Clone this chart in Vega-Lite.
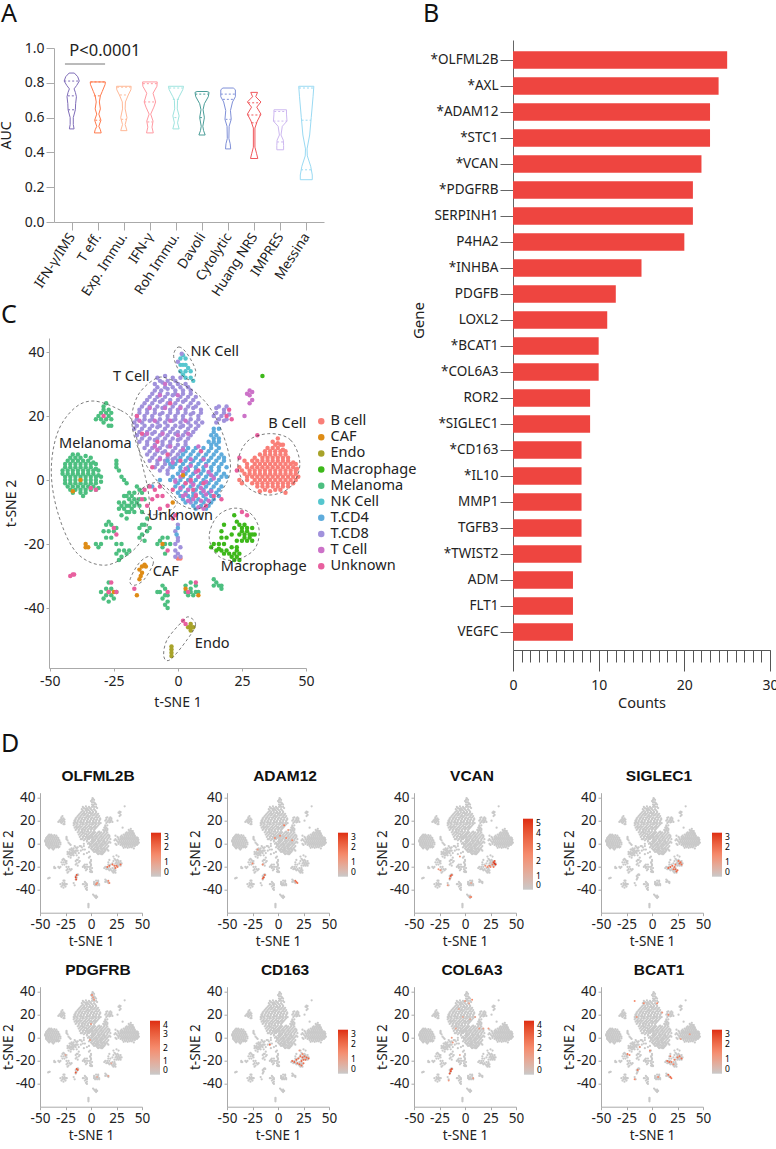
{"$schema":"https://vega.github.io/schema/vega-lite/v6.json","autosize":"none","padding":{"left":40,"top":40,"right":736,"bottom":1109},"background":"white","bounds":"flush","spacing":0,
"resolve":{"scale":{"color":"independent","stroke":"independent"},"legend":{"color":"independent"}},
"config":{"view":{"stroke":null},"font":"Noto Sans","axis":{"grid":false,"domainColor":"#aaa","tickColor":"#aaa","labelColor":"#222","titleColor":"#222","labelFont":"Noto Sans","titleFont":"Noto Sans","titleFontWeight":"normal","labelFontSize":13.5,"titleFontSize":13.5,"tickSize":3,"labelOverlap":false,"labelFlush":false,"labelPadding":2,"titlePadding":3},"title":{"font":"Liberation Sans","fontWeight":"bold","fontSize":15.5,"color":"#111","offset":6,"dx":7,"frame":"group"},"legend":{"labelFont":"Noto Sans","titleFont":"Noto Sans"}},
"datasets":{
"violin":[
{"g":"IFN-γ/IMS","y":0.856,"l":0.9,"r":1.1},{"g":"IFN-γ/IMS","y":0.835,"l":0.77,"r":1.23},{"g":"IFN-γ/IMS","y":0.81,"l":0.71,"r":1.29},{"g":"IFN-γ/IMS","y":0.785,"l":0.81,"r":1.19},{"g":"IFN-γ/IMS","y":0.765,"l":0.91,"r":1.09},{"g":"IFN-γ/IMS","y":0.745,"l":0.86,"r":1.14},{"g":"IFN-γ/IMS","y":0.72,"l":0.82,"r":1.18},{"g":"IFN-γ/IMS","y":0.68,"l":0.85,"r":1.15},{"g":"IFN-γ/IMS","y":0.645,"l":0.86,"r":1.14},{"g":"IFN-γ/IMS","y":0.6,"l":0.94,"r":1.06},{"g":"IFN-γ/IMS","y":0.56,"l":0.94,"r":1.06},{"g":"IFN-γ/IMS","y":0.535,"l":0.91,"r":1.09},
{"g":"T eff.","y":0.805,"l":1.71,"r":2.29},{"g":"T eff.","y":0.79,"l":1.72,"r":2.28},{"g":"T eff.","y":0.75,"l":1.83,"r":2.17},{"g":"T eff.","y":0.725,"l":1.9,"r":2.1},{"g":"T eff.","y":0.69,"l":1.94,"r":2.06},{"g":"T eff.","y":0.65,"l":1.9,"r":2.1},{"g":"T eff.","y":0.62,"l":1.96,"r":2.04},{"g":"T eff.","y":0.585,"l":1.88,"r":2.12},{"g":"T eff.","y":0.55,"l":1.96,"r":2.04},{"g":"T eff.","y":0.53,"l":1.9,"r":2.1},{"g":"T eff.","y":0.512,"l":1.87,"r":2.13},
{"g":"Exp. Immu.","y":0.78,"l":2.72,"r":3.28},{"g":"Exp. Immu.","y":0.76,"l":2.73,"r":3.27},{"g":"Exp. Immu.","y":0.73,"l":2.83,"r":3.17},{"g":"Exp. Immu.","y":0.69,"l":2.94,"r":3.06},{"g":"Exp. Immu.","y":0.65,"l":2.95,"r":3.05},{"g":"Exp. Immu.","y":0.6,"l":2.88,"r":3.12},{"g":"Exp. Immu.","y":0.56,"l":2.95,"r":3.05},{"g":"Exp. Immu.","y":0.525,"l":2.88,"r":3.12},
{"g":"IFN-γ","y":0.805,"l":3.72,"r":4.28},{"g":"IFN-γ","y":0.78,"l":3.73,"r":4.27},{"g":"IFN-γ","y":0.74,"l":3.88,"r":4.12},{"g":"IFN-γ","y":0.69,"l":3.78,"r":4.22},{"g":"IFN-γ","y":0.66,"l":3.85,"r":4.15},{"g":"IFN-γ","y":0.62,"l":3.97,"r":4.03},{"g":"IFN-γ","y":0.58,"l":3.88,"r":4.12},{"g":"IFN-γ","y":0.545,"l":3.92,"r":4.08},{"g":"IFN-γ","y":0.512,"l":3.87,"r":4.13},
{"g":"Roh Immu.","y":0.78,"l":4.71,"r":5.29},{"g":"Roh Immu.","y":0.76,"l":4.74,"r":5.26},{"g":"Roh Immu.","y":0.72,"l":4.88,"r":5.12},{"g":"Roh Immu.","y":0.7,"l":4.94,"r":5.06},{"g":"Roh Immu.","y":0.65,"l":4.95,"r":5.05},{"g":"Roh Immu.","y":0.61,"l":4.88,"r":5.12},{"g":"Roh Immu.","y":0.57,"l":4.94,"r":5.06},{"g":"Roh Immu.","y":0.535,"l":4.88,"r":5.12},
{"g":"Davoli","y":0.75,"l":5.81,"r":6.19},{"g":"Davoli","y":0.745,"l":5.73,"r":6.27},{"g":"Davoli","y":0.72,"l":5.76,"r":6.24},{"g":"Davoli","y":0.68,"l":5.91,"r":6.09},{"g":"Davoli","y":0.645,"l":5.96,"r":6.04},{"g":"Davoli","y":0.6,"l":5.91,"r":6.09},{"g":"Davoli","y":0.55,"l":5.97,"r":6.03},{"g":"Davoli","y":0.525,"l":5.94,"r":6.06},{"g":"Davoli","y":0.5,"l":5.88,"r":6.12},
{"g":"Cytolytic","y":0.77,"l":6.8,"r":7.2},{"g":"Cytolytic","y":0.76,"l":6.72,"r":7.28},{"g":"Cytolytic","y":0.72,"l":6.72,"r":7.28},{"g":"Cytolytic","y":0.69,"l":6.83,"r":7.17},{"g":"Cytolytic","y":0.64,"l":6.91,"r":7.09},{"g":"Cytolytic","y":0.59,"l":6.88,"r":7.12},{"g":"Cytolytic","y":0.55,"l":6.96,"r":7.04},{"g":"Cytolytic","y":0.48,"l":6.97,"r":7.03},{"g":"Cytolytic","y":0.45,"l":6.92,"r":7.08},{"g":"Cytolytic","y":0.42,"l":6.9,"r":7.1},
{"g":"Huang NRS","y":0.745,"l":7.87,"r":8.13},{"g":"Huang NRS","y":0.72,"l":7.94,"r":8.06},{"g":"Huang NRS","y":0.69,"l":7.74,"r":8.26},{"g":"Huang NRS","y":0.66,"l":7.9,"r":8.1},{"g":"Huang NRS","y":0.62,"l":7.74,"r":8.26},{"g":"Huang NRS","y":0.58,"l":7.88,"r":8.12},{"g":"Huang NRS","y":0.54,"l":7.97,"r":8.03},{"g":"Huang NRS","y":0.43,"l":7.97,"r":8.03},{"g":"Huang NRS","y":0.395,"l":7.91,"r":8.09},{"g":"Huang NRS","y":0.365,"l":7.86,"r":8.14},
{"g":"IMPRES","y":0.645,"l":8.76,"r":9.24},{"g":"IMPRES","y":0.62,"l":8.76,"r":9.24},{"g":"IMPRES","y":0.58,"l":8.74,"r":9.26},{"g":"IMPRES","y":0.55,"l":8.92,"r":9.08},{"g":"IMPRES","y":0.5,"l":8.97,"r":9.03},{"g":"IMPRES","y":0.47,"l":8.88,"r":9.12},{"g":"IMPRES","y":0.44,"l":8.87,"r":9.13},{"g":"IMPRES","y":0.415,"l":8.87,"r":9.13},
{"g":"Messina","y":0.78,"l":9.71,"r":10.29},{"g":"Messina","y":0.72,"l":9.74,"r":10.26},{"g":"Messina","y":0.6,"l":9.81,"r":10.19},{"g":"Messina","y":0.5,"l":9.87,"r":10.13},{"g":"Messina","y":0.42,"l":9.97,"r":10.03},{"g":"Messina","y":0.38,"l":9.96,"r":10.04},{"g":"Messina","y":0.32,"l":9.83,"r":10.17},{"g":"Messina","y":0.27,"l":9.77,"r":10.23},{"g":"Messina","y":0.243,"l":9.77,"r":10.23}],
"quart":[
{"g":"IFN-γ/IMS","y":0.81,"l":0.71,"r":1.29},{"g":"IFN-γ/IMS","y":0.725,"l":0.85,"r":1.15},{"g":"IFN-γ/IMS","y":0.645,"l":0.86,"r":1.14},
{"g":"T eff.","y":0.805,"l":1.72,"r":2.28},{"g":"T eff.","y":0.725,"l":1.85,"r":2.15},{"g":"T eff.","y":0.585,"l":1.9,"r":2.1},
{"g":"Exp. Immu.","y":0.775,"l":2.74,"r":3.26},{"g":"Exp. Immu.","y":0.73,"l":2.85,"r":3.15},{"g":"Exp. Immu.","y":0.59,"l":2.9,"r":3.1},
{"g":"IFN-γ","y":0.795,"l":3.73,"r":4.27},{"g":"IFN-γ","y":0.69,"l":3.78,"r":4.22},{"g":"IFN-γ","y":0.575,"l":3.9,"r":4.1},
{"g":"Roh Immu.","y":0.77,"l":4.74,"r":5.26},{"g":"Roh Immu.","y":0.705,"l":4.88,"r":5.12},{"g":"Roh Immu.","y":0.6,"l":4.94,"r":5.06},
{"g":"Davoli","y":0.735,"l":5.74,"r":6.26},{"g":"Davoli","y":0.6,"l":5.92,"r":6.08},
{"g":"Cytolytic","y":0.735,"l":6.72,"r":7.28},{"g":"Cytolytic","y":0.705,"l":6.8,"r":7.2},{"g":"Cytolytic","y":0.59,"l":6.9,"r":7.1},
{"g":"Huang NRS","y":0.685,"l":7.77,"r":8.23},{"g":"Huang NRS","y":0.615,"l":7.74,"r":8.26},{"g":"Huang NRS","y":0.57,"l":7.9,"r":8.1},
{"g":"IMPRES","y":0.635,"l":8.77,"r":9.23},{"g":"IMPRES","y":0.58,"l":8.74,"r":9.26},{"g":"IMPRES","y":0.46,"l":8.88,"r":9.12},
{"g":"Messina","y":0.77,"l":9.72,"r":10.28},{"g":"Messina","y":0.585,"l":9.82,"r":10.18},{"g":"Messina","y":0.3,"l":9.8,"r":10.2}],
"cells":[
{"x":-41,"y":8,"t":"Melanoma"},{"x":-39,"y":8,"t":"Melanoma"},{"x":-36,"y":7.5,"t":"Melanoma"},{"x":-43,"y":6,"t":"Melanoma"},{"x":-41,"y":6,"t":"Melanoma"},{"x":-39,"y":6,"t":"Melanoma"},{"x":-37,"y":6,"t":"Melanoma"},{"x":-35,"y":6,"t":"Melanoma"},{"x":-33,"y":5.5,"t":"Melanoma"},{"x":-44,"y":4,"t":"Melanoma"},{"x":-42,"y":4,"t":"Melanoma"},{"x":-40,"y":4,"t":"Melanoma"},{"x":-38,"y":4,"t":"Melanoma"},{"x":-36,"y":4,"t":"Melanoma"},{"x":-34,"y":4,"t":"Melanoma"},{"x":-32,"y":3.5,"t":"Melanoma"},{"x":-45,"y":2,"t":"Melanoma"},{"x":-43,"y":2,"t":"Melanoma"},{"x":-41,"y":2,"t":"Melanoma"},{"x":-39,"y":2,"t":"Melanoma"},{"x":-37,"y":2,"t":"Melanoma"},{"x":-35,"y":2,"t":"Melanoma"},{"x":-33,"y":2,"t":"Melanoma"},{"x":-31,"y":1.5,"t":"Melanoma"},{"x":-44,"y":0,"t":"Melanoma"},{"x":-42,"y":0,"t":"Melanoma"},{"x":-40,"y":0,"t":"Melanoma"},{"x":-38,"y":0,"t":"Melanoma"},{"x":-36,"y":0,"t":"Melanoma"},{"x":-34,"y":0,"t":"Melanoma"},{"x":-32,"y":0,"t":"Melanoma"},{"x":-30,"y":-0.5,"t":"Melanoma"},{"x":-43,"y":-2,"t":"Melanoma"},{"x":-41,"y":-2,"t":"Melanoma"},{"x":-39,"y":-2,"t":"Melanoma"},{"x":-37,"y":-2,"t":"Melanoma"},{"x":-35,"y":-2,"t":"Melanoma"},{"x":-33,"y":-2,"t":"Melanoma"},{"x":-31,"y":-2.5,"t":"Melanoma"},{"x":-41,"y":-4,"t":"Melanoma"},{"x":-38,"y":-4,"t":"Melanoma"},{"x":-36,"y":-4,"t":"Melanoma"},{"x":-37,"y":-5,"t":"Melanoma"},
{"x":-42,"y":7,"t":"Melanoma"},{"x":-40,"y":7,"t":"Melanoma"},{"x":-38,"y":7,"t":"Melanoma"},{"x":-34,"y":7,"t":"Melanoma"},{"x":-44,"y":5,"t":"Melanoma"},{"x":-42,"y":5,"t":"Melanoma"},{"x":-40,"y":5,"t":"Melanoma"},{"x":-38,"y":5,"t":"Melanoma"},{"x":-36,"y":5,"t":"Melanoma"},{"x":-34,"y":5,"t":"Melanoma"},{"x":-32,"y":5,"t":"Melanoma"},{"x":-45,"y":3,"t":"Melanoma"},{"x":-43,"y":3,"t":"Melanoma"},{"x":-41,"y":3,"t":"Melanoma"},{"x":-39,"y":3,"t":"Melanoma"},{"x":-37,"y":3,"t":"Melanoma"},{"x":-35,"y":3,"t":"Melanoma"},{"x":-33,"y":3,"t":"Melanoma"},{"x":-31,"y":3,"t":"Melanoma"},{"x":-44,"y":1,"t":"Melanoma"},{"x":-42,"y":1,"t":"Melanoma"},{"x":-40,"y":1,"t":"Melanoma"},{"x":-38,"y":1,"t":"Melanoma"},{"x":-36,"y":1,"t":"Melanoma"},{"x":-34,"y":1,"t":"Melanoma"},{"x":-32,"y":1,"t":"Melanoma"},{"x":-30,"y":1,"t":"Melanoma"},{"x":-44,"y":-1,"t":"Melanoma"},{"x":-42,"y":-1,"t":"Melanoma"},{"x":-40,"y":-1,"t":"Melanoma"},{"x":-38,"y":-1,"t":"Melanoma"},{"x":-36,"y":-1,"t":"Melanoma"},{"x":-34,"y":-1,"t":"Melanoma"},{"x":-32,"y":-1,"t":"Melanoma"},{"x":-42,"y":-3,"t":"Melanoma"},{"x":-40,"y":-3,"t":"Melanoma"},{"x":-38,"y":-3,"t":"Melanoma"},{"x":-36,"y":-3,"t":"Melanoma"},{"x":-34,"y":-3,"t":"Melanoma"},{"x":-32,"y":-3,"t":"Melanoma"},
{"x":-29,"y":23,"t":"Melanoma"},{"x":-28,"y":24,"t":"Melanoma"},{"x":-27,"y":22,"t":"Melanoma"},{"x":-30,"y":21,"t":"Melanoma"},{"x":-28,"y":21,"t":"Melanoma"},{"x":-26,"y":21,"t":"Melanoma"},{"x":-32,"y":19,"t":"Melanoma"},{"x":-30,"y":19,"t":"Melanoma"},{"x":-28,"y":19,"t":"Melanoma"},{"x":-26,"y":19,"t":"Melanoma"},{"x":-27,"y":17,"t":"Melanoma"},{"x":-26,"y":17,"t":"Melanoma"},{"x":-29,"y":18,"t":"Melanoma"},{"x":-29,"y":22,"t":"Melanoma"},{"x":-27,"y":20,"t":"Melanoma"},{"x":-31,"y":20,"t":"Melanoma"},
{"x":-24,"y":6,"t":"Melanoma"},{"x":-24,"y":4,"t":"Melanoma"},{"x":-23,"y":3,"t":"Melanoma"},{"x":-22,"y":1,"t":"Melanoma"},{"x":-21,"y":0,"t":"Melanoma"},{"x":-20,"y":-1,"t":"Melanoma"},{"x":-24,"y":5,"t":"Melanoma"},
{"x":-16,"y":-2,"t":"Melanoma"},{"x":-15,"y":-3,"t":"Melanoma"},{"x":-14,"y":-4,"t":"Melanoma"},{"x":-17,"y":-4,"t":"Melanoma"},{"x":-19,"y":-4,"t":"Melanoma"},{"x":-21,"y":-5,"t":"Melanoma"},{"x":-19,"y":-6,"t":"Melanoma"},{"x":-17,"y":-6,"t":"Melanoma"},{"x":-15,"y":-6,"t":"Melanoma"},{"x":-13,"y":-6,"t":"Melanoma"},{"x":-23,"y":-7,"t":"Melanoma"},{"x":-21,"y":-7,"t":"Melanoma"},{"x":-19,"y":-8,"t":"Melanoma"},{"x":-17,"y":-8,"t":"Melanoma"},{"x":-15,"y":-8,"t":"Melanoma"},{"x":-23,"y":-9,"t":"Melanoma"},{"x":-21,"y":-9,"t":"Melanoma"},{"x":-19,"y":-10,"t":"Melanoma"},{"x":-17,"y":-10,"t":"Melanoma"},{"x":-22,"y":-11,"t":"Melanoma"},{"x":-20,"y":-12,"t":"Melanoma"},{"x":-14,"y":-10,"t":"Melanoma"},{"x":-12,"y":-12,"t":"Melanoma"},{"x":-13,"y":-14,"t":"Melanoma"},{"x":-20,"y":-5,"t":"Melanoma"},{"x":-18,"y":-5,"t":"Melanoma"},{"x":-22,"y":-8,"t":"Melanoma"},{"x":-20,"y":-8,"t":"Melanoma"},{"x":-18,"y":-7,"t":"Melanoma"},{"x":-16,"y":-7,"t":"Melanoma"},{"x":-20,"y":-10,"t":"Melanoma"},{"x":-18,"y":-9,"t":"Melanoma"},
{"x":-28,"y":-14,"t":"Melanoma"},{"x":-27,"y":-13,"t":"Melanoma"},{"x":-26,"y":-14,"t":"Melanoma"},{"x":-29,"y":-16,"t":"Melanoma"},{"x":-27,"y":-16,"t":"Melanoma"},{"x":-25,"y":-16,"t":"Melanoma"},{"x":-28,"y":-18,"t":"Melanoma"},{"x":-26,"y":-18,"t":"Melanoma"},{"x":-24,"y":-15,"t":"Melanoma"},
{"x":-15,"y":-15,"t":"Melanoma"},{"x":-14,"y":-17,"t":"Melanoma"},{"x":-12,"y":-16,"t":"Melanoma"},{"x":-15,"y":-18,"t":"Melanoma"},{"x":-13,"y":-19,"t":"Melanoma"},{"x":-11,"y":-15,"t":"Melanoma"},{"x":-14,"y":-14,"t":"Melanoma"},
{"x":-24,"y":-20,"t":"Melanoma"},{"x":-23,"y":-22,"t":"Melanoma"},{"x":-22,"y":-24,"t":"Melanoma"},{"x":-24,"y":-23,"t":"Melanoma"},{"x":-21,"y":-22,"t":"Melanoma"},{"x":-22,"y":-20,"t":"Melanoma"},{"x":-20,"y":-23,"t":"Melanoma"},{"x":-23,"y":-25,"t":"Melanoma"},{"x":-19,"y":-22,"t":"Melanoma"},{"x":-32,"y":-20,"t":"Melanoma"},{"x":-31,"y":-21,"t":"Melanoma"},{"x":-30,"y":-20,"t":"Melanoma"},
{"x":-7,"y":-19,"t":"Melanoma"},{"x":-6,"y":-21,"t":"Melanoma"},{"x":-5,"y":-20,"t":"Melanoma"},{"x":-8,"y":-20,"t":"Melanoma"},{"x":-4,"y":-18,"t":"Melanoma"},{"x":-5,"y":-23,"t":"Melanoma"},{"x":-6,"y":-18,"t":"Melanoma"},{"x":-3,"y":-20,"t":"Melanoma"},
{"x":-27,"y":-32,"t":"Melanoma"},{"x":-28,"y":-34,"t":"Melanoma"},{"x":-26,"y":-34,"t":"Melanoma"},{"x":-30,"y":-35,"t":"Melanoma"},{"x":-28,"y":-36,"t":"Melanoma"},{"x":-26,"y":-36,"t":"Melanoma"},{"x":-24,"y":-35,"t":"Melanoma"},{"x":-29,"y":-37,"t":"Melanoma"},{"x":-27,"y":-38,"t":"Melanoma"},{"x":-25,"y":-37,"t":"Melanoma"},
{"x":-6,"y":-33,"t":"Melanoma"},{"x":-5,"y":-34,"t":"Melanoma"},{"x":-7,"y":-35,"t":"Melanoma"},{"x":-5,"y":-36,"t":"Melanoma"},{"x":-6,"y":-37,"t":"Melanoma"},{"x":-4,"y":-38,"t":"Melanoma"},{"x":-5,"y":-39,"t":"Melanoma"},{"x":-4,"y":-40,"t":"Melanoma"},{"x":-8,"y":-35,"t":"Melanoma"},{"x":-4,"y":-36,"t":"Melanoma"},
{"x":3,"y":-33,"t":"Melanoma"},{"x":5,"y":-32,"t":"Melanoma"},{"x":7,"y":-33,"t":"Melanoma"},{"x":3,"y":-35,"t":"Melanoma"},{"x":5,"y":-35,"t":"Melanoma"},{"x":7,"y":-35,"t":"Melanoma"},{"x":4,"y":-36,"t":"Melanoma"},{"x":6,"y":-36,"t":"Melanoma"},{"x":8,"y":-35,"t":"Melanoma"},{"x":5,"y":-34,"t":"Melanoma"},
{"x":14,"y":-31,"t":"Melanoma"},{"x":15,"y":-32,"t":"Melanoma"},{"x":16,"y":-33,"t":"Melanoma"},{"x":17,"y":-34,"t":"Melanoma"},{"x":14,"y":-33,"t":"Melanoma"},{"x":17,"y":-33,"t":"Melanoma"},
{"x":22,"y":-11,"t":"Macrophage"},{"x":23,"y":-13,"t":"Macrophage"},{"x":22,"y":-15,"t":"Macrophage"},{"x":24,"y":-14,"t":"Macrophage"},{"x":26,"y":-14,"t":"Macrophage"},{"x":25,"y":-16,"t":"Macrophage"},{"x":27,"y":-15,"t":"Macrophage"},{"x":29,"y":-15,"t":"Macrophage"},{"x":24,"y":-17,"t":"Macrophage"},{"x":26,"y":-17,"t":"Macrophage"},{"x":28,"y":-17,"t":"Macrophage"},{"x":30,"y":-17,"t":"Macrophage"},{"x":25,"y":-19,"t":"Macrophage"},{"x":27,"y":-19,"t":"Macrophage"},{"x":29,"y":-19,"t":"Macrophage"},{"x":23,"y":-19,"t":"Macrophage"},{"x":19,"y":-18,"t":"Macrophage"},{"x":17,"y":-16,"t":"Macrophage"},{"x":18,"y":-20,"t":"Macrophage"},{"x":16,"y":-20,"t":"Macrophage"},{"x":14,"y":-20,"t":"Macrophage"},{"x":13,"y":-21,"t":"Macrophage"},{"x":15,"y":-22,"t":"Macrophage"},{"x":17,"y":-22,"t":"Macrophage"},{"x":19,"y":-22,"t":"Macrophage"},{"x":21,"y":-21,"t":"Macrophage"},{"x":23,"y":-21,"t":"Macrophage"},{"x":20,"y":-23,"t":"Macrophage"},{"x":22,"y":-23,"t":"Macrophage"},{"x":24,"y":-23,"t":"Macrophage"},{"x":22,"y":-25,"t":"Macrophage"},{"x":24,"y":-25,"t":"Macrophage"},{"x":18,"y":-14,"t":"Macrophage"},{"x":17,"y":-18,"t":"Macrophage"},{"x":21,"y":-17,"t":"Macrophage"},{"x":33,"y":32.5,"t":"Macrophage"},{"x":27,"y":-16,"t":"Macrophage"},{"x":29,"y":-17,"t":"Macrophage"},{"x":28,"y":-18,"t":"Macrophage"},{"x":26,"y":-18,"t":"Macrophage"},{"x":25,"y":-15,"t":"Macrophage"},{"x":23,"y":-24,"t":"Macrophage"},{"x":21,"y":-24,"t":"Macrophage"},{"x":23,"y":-22,"t":"Macrophage"},{"x":16,"y":-21.5,"t":"Macrophage"},{"x":18,"y":-23,"t":"Macrophage"},
{"x":39,"y":13,"t":"B cell"},{"x":37,"y":12,"t":"B cell"},{"x":39,"y":11.5,"t":"B cell"},{"x":41,"y":11,"t":"B cell"},{"x":35,"y":10,"t":"B cell"},{"x":37,"y":10,"t":"B cell"},{"x":39,"y":10,"t":"B cell"},{"x":41,"y":9.5,"t":"B cell"},{"x":32,"y":8,"t":"B cell"},{"x":34,"y":8,"t":"B cell"},{"x":36,"y":8,"t":"B cell"},{"x":38,"y":8,"t":"B cell"},{"x":40,"y":8,"t":"B cell"},{"x":42,"y":8,"t":"B cell"},{"x":26,"y":6,"t":"B cell"},{"x":29,"y":6,"t":"B cell"},{"x":31,"y":6,"t":"B cell"},{"x":33,"y":6,"t":"B cell"},{"x":35,"y":6,"t":"B cell"},{"x":37,"y":6,"t":"B cell"},{"x":39,"y":6,"t":"B cell"},{"x":41,"y":6,"t":"B cell"},{"x":43,"y":6,"t":"B cell"},{"x":45,"y":5.5,"t":"B cell"},{"x":24,"y":4,"t":"B cell"},{"x":27,"y":4,"t":"B cell"},{"x":29,"y":4,"t":"B cell"},{"x":31,"y":4,"t":"B cell"},{"x":33,"y":4,"t":"B cell"},{"x":35,"y":4,"t":"B cell"},{"x":37,"y":4,"t":"B cell"},{"x":39,"y":4,"t":"B cell"},{"x":41,"y":4,"t":"B cell"},{"x":43,"y":4,"t":"B cell"},{"x":45,"y":4,"t":"B cell"},{"x":46.5,"y":3.5,"t":"B cell"},{"x":26,"y":2,"t":"B cell"},{"x":28,"y":2,"t":"B cell"},{"x":30,"y":2,"t":"B cell"},{"x":32,"y":2,"t":"B cell"},{"x":34,"y":2,"t":"B cell"},{"x":36,"y":2,"t":"B cell"},{"x":38,"y":2,"t":"B cell"},{"x":40,"y":2,"t":"B cell"},{"x":42,"y":2,"t":"B cell"},{"x":44,"y":2,"t":"B cell"},{"x":46,"y":2,"t":"B cell"},{"x":27,"y":0,"t":"B cell"},{"x":30,"y":0,"t":"B cell"},{"x":32,"y":0,"t":"B cell"},{"x":34,"y":0,"t":"B cell"},{"x":36,"y":0,"t":"B cell"},{"x":38,"y":0,"t":"B cell"},{"x":40,"y":0,"t":"B cell"},{"x":42,"y":0,"t":"B cell"},{"x":44,"y":0,"t":"B cell"},{"x":46,"y":0,"t":"B cell"},{"x":31,"y":-2,"t":"B cell"},{"x":33,"y":-2,"t":"B cell"},{"x":35,"y":-2,"t":"B cell"},{"x":37,"y":-2,"t":"B cell"},{"x":39,"y":-2,"t":"B cell"},{"x":41,"y":-2,"t":"B cell"},{"x":43,"y":-2,"t":"B cell"},{"x":32,"y":-3.5,"t":"B cell"},{"x":36,"y":-3.5,"t":"B cell"},{"x":40,"y":-3,"t":"B cell"},{"x":42,"y":-4,"t":"B cell"},{"x":24,"y":0,"t":"B cell"},{"x":25,"y":-1,"t":"B cell"},{"x":0,"y":-24.5,"t":"B cell"},{"x":1,"y":-24.5,"t":"B cell"},
{"x":38,"y":11,"t":"B cell"},{"x":40,"y":11,"t":"B cell"},{"x":34,"y":9,"t":"B cell"},{"x":36,"y":9,"t":"B cell"},{"x":38,"y":9,"t":"B cell"},{"x":40,"y":9,"t":"B cell"},{"x":42,"y":9,"t":"B cell"},{"x":30,"y":7,"t":"B cell"},{"x":33,"y":7,"t":"B cell"},{"x":35,"y":7,"t":"B cell"},{"x":37,"y":7,"t":"B cell"},{"x":39,"y":7,"t":"B cell"},{"x":41,"y":7,"t":"B cell"},{"x":43,"y":7,"t":"B cell"},{"x":27,"y":5,"t":"B cell"},{"x":30,"y":5,"t":"B cell"},{"x":32,"y":5,"t":"B cell"},{"x":34,"y":5,"t":"B cell"},{"x":36,"y":5,"t":"B cell"},{"x":38,"y":5,"t":"B cell"},{"x":40,"y":5,"t":"B cell"},{"x":42,"y":5,"t":"B cell"},{"x":44,"y":5,"t":"B cell"},{"x":46,"y":5,"t":"B cell"},{"x":25,"y":3,"t":"B cell"},{"x":28,"y":3,"t":"B cell"},{"x":30,"y":3,"t":"B cell"},{"x":32,"y":3,"t":"B cell"},{"x":34,"y":3,"t":"B cell"},{"x":36,"y":3,"t":"B cell"},{"x":38,"y":3,"t":"B cell"},{"x":40,"y":3,"t":"B cell"},{"x":42,"y":3,"t":"B cell"},{"x":44,"y":3,"t":"B cell"},{"x":46,"y":3,"t":"B cell"},{"x":27,"y":1,"t":"B cell"},{"x":29,"y":1,"t":"B cell"},{"x":31,"y":1,"t":"B cell"},{"x":33,"y":1,"t":"B cell"},{"x":35,"y":1,"t":"B cell"},{"x":37,"y":1,"t":"B cell"},{"x":39,"y":1,"t":"B cell"},{"x":41,"y":1,"t":"B cell"},{"x":43,"y":1,"t":"B cell"},{"x":45,"y":1,"t":"B cell"},{"x":47,"y":1,"t":"B cell"},{"x":29,"y":-1,"t":"B cell"},{"x":31,"y":-1,"t":"B cell"},{"x":33,"y":-1,"t":"B cell"},{"x":35,"y":-1,"t":"B cell"},{"x":37,"y":-1,"t":"B cell"},{"x":39,"y":-1,"t":"B cell"},{"x":41,"y":-1,"t":"B cell"},{"x":43,"y":-1,"t":"B cell"},{"x":45,"y":-1,"t":"B cell"},{"x":34,"y":-3,"t":"B cell"},{"x":38,"y":-3,"t":"B cell"},
{"x":1,"y":38,"t":"NK Cell"},{"x":2,"y":39,"t":"NK Cell"},{"x":3,"y":38,"t":"NK Cell"},{"x":1,"y":36,"t":"NK Cell"},{"x":2,"y":36,"t":"NK Cell"},{"x":3,"y":36,"t":"NK Cell"},{"x":4,"y":35,"t":"NK Cell"},{"x":1,"y":34,"t":"NK Cell"},{"x":3,"y":34,"t":"NK Cell"},{"x":5,"y":34,"t":"NK Cell"},{"x":3,"y":32,"t":"NK Cell"},{"x":5,"y":32,"t":"NK Cell"},{"x":6,"y":31,"t":"NK Cell"},{"x":2,"y":33,"t":"NK Cell"},
{"x":1.5,"y":39.5,"t":"T.CD8"},{"x":0,"y":37,"t":"T.CD8"},{"x":-8,"y":32,"t":"T.CD8"},{"x":-5,"y":32.5,"t":"T.CD8"},{"x":-2,"y":32,"t":"T.CD8"},{"x":1,"y":32,"t":"T.CD8"},{"x":-9,"y":30,"t":"T.CD8"},{"x":-6,"y":30.5,"t":"T.CD8"},{"x":-3,"y":30,"t":"T.CD8"},{"x":0,"y":30,"t":"T.CD8"},{"x":3,"y":30,"t":"T.CD8"},{"x":-9,"y":28,"t":"T.CD8"},{"x":-6.5,"y":28,"t":"T.CD8"},{"x":-4,"y":28.5,"t":"T.CD8"},{"x":-1,"y":28,"t":"T.CD8"},{"x":2,"y":28,"t":"T.CD8"},{"x":5,"y":28,"t":"T.CD8"},{"x":-11,"y":26,"t":"T.CD8"},{"x":-8,"y":26,"t":"T.CD8"},{"x":-5,"y":26,"t":"T.CD8"},{"x":-2,"y":26.5,"t":"T.CD8"},{"x":1,"y":26,"t":"T.CD8"},{"x":4,"y":26,"t":"T.CD8"},{"x":7,"y":26,"t":"T.CD8"},{"x":-13,"y":24,"t":"T.CD8"},{"x":-10,"y":24,"t":"T.CD8"},{"x":-7,"y":24.5,"t":"T.CD8"},{"x":-4,"y":24,"t":"T.CD8"},{"x":-1,"y":24,"t":"T.CD8"},{"x":2,"y":24.5,"t":"T.CD8"},{"x":5,"y":24,"t":"T.CD8"},{"x":8,"y":24,"t":"T.CD8"},{"x":-15,"y":22,"t":"T.CD8"},{"x":-12,"y":22,"t":"T.CD8"},{"x":-9,"y":22,"t":"T.CD8"},{"x":-6,"y":22.5,"t":"T.CD8"},{"x":-3,"y":22,"t":"T.CD8"},{"x":0,"y":22,"t":"T.CD8"},{"x":3,"y":22,"t":"T.CD8"},{"x":6,"y":22.5,"t":"T.CD8"},{"x":9,"y":22,"t":"T.CD8"},{"x":15,"y":22.5,"t":"T.CD8"},{"x":18,"y":22,"t":"T.CD8"},{"x":-16,"y":20,"t":"T.CD8"},{"x":-13,"y":20,"t":"T.CD8"},{"x":-10,"y":20,"t":"T.CD8"},{"x":-7,"y":20.5,"t":"T.CD8"},{"x":-4,"y":20,"t":"T.CD8"},{"x":-1,"y":20,"t":"T.CD8"},{"x":2,"y":20,"t":"T.CD8"},{"x":5,"y":20.5,"t":"T.CD8"},{"x":8,"y":20,"t":"T.CD8"},{"x":14,"y":20,"t":"T.CD8"},{"x":17,"y":20,"t":"T.CD8"},{"x":20,"y":20.5,"t":"T.CD8"},{"x":-17,"y":18,"t":"T.CD8"},{"x":-14,"y":18,"t":"T.CD8"},{"x":-11,"y":18.5,"t":"T.CD8"},{"x":-8,"y":18,"t":"T.CD8"},{"x":-5,"y":18,"t":"T.CD8"},{"x":-2,"y":18.5,"t":"T.CD8"},{"x":1,"y":18,"t":"T.CD8"},{"x":4,"y":18,"t":"T.CD8"},{"x":7,"y":18,"t":"T.CD8"},{"x":9.5,"y":18,"t":"T.CD8"},{"x":15,"y":18,"t":"T.CD8"},{"x":18,"y":18.5,"t":"T.CD8"},{"x":-17,"y":16,"t":"T.CD8"},{"x":-14,"y":16,"t":"T.CD8"},{"x":-11,"y":16,"t":"T.CD8"},{"x":-8,"y":16.5,"t":"T.CD8"},{"x":-5,"y":16,"t":"T.CD8"},{"x":-2,"y":16,"t":"T.CD8"},{"x":1,"y":16.5,"t":"T.CD8"},{"x":4,"y":16,"t":"T.CD8"},{"x":7,"y":16,"t":"T.CD8"},{"x":-16,"y":14,"t":"T.CD8"},{"x":-13,"y":14,"t":"T.CD8"},{"x":-10,"y":14.5,"t":"T.CD8"},{"x":-7,"y":14,"t":"T.CD8"},{"x":-4,"y":14,"t":"T.CD8"},{"x":-1,"y":14.5,"t":"T.CD8"},{"x":2,"y":14,"t":"T.CD8"},{"x":5,"y":14,"t":"T.CD8"},{"x":-15,"y":12,"t":"T.CD8"},{"x":-12,"y":12,"t":"T.CD8"},{"x":-9,"y":12.5,"t":"T.CD8"},{"x":-6,"y":12,"t":"T.CD8"},{"x":-3,"y":12,"t":"T.CD8"},{"x":0,"y":12.5,"t":"T.CD8"},{"x":3,"y":12,"t":"T.CD8"},{"x":-13,"y":10,"t":"T.CD8"},{"x":-10,"y":10,"t":"T.CD8"},{"x":-7,"y":10,"t":"T.CD8"},{"x":-4,"y":10.5,"t":"T.CD8"},{"x":-1,"y":10,"t":"T.CD8"},{"x":2,"y":10,"t":"T.CD8"},{"x":-12,"y":8,"t":"T.CD8"},{"x":-9,"y":8,"t":"T.CD8"},{"x":-6,"y":8.5,"t":"T.CD8"},{"x":-3,"y":8,"t":"T.CD8"},{"x":0,"y":8,"t":"T.CD8"},{"x":-11,"y":6,"t":"T.CD8"},{"x":-8,"y":6,"t":"T.CD8"},{"x":-5,"y":6,"t":"T.CD8"},{"x":-2,"y":6.5,"t":"T.CD8"},{"x":-9,"y":4,"t":"T.CD8"},{"x":-6,"y":4,"t":"T.CD8"},{"x":-3,"y":4,"t":"T.CD8"},{"x":-4,"y":2,"t":"T.CD8"},{"x":-1,"y":0,"t":"T.CD8"},{"x":5,"y":-7,"t":"T.CD8"},{"x":0,"y":-14,"t":"T.CD8"},{"x":-1,"y":-16,"t":"T.CD8"},{"x":0,"y":-18,"t":"T.CD8"},{"x":-1,"y":-20,"t":"T.CD8"},{"x":0,"y":-19,"t":"T.CD8"},{"x":1,"y":-21,"t":"T.CD8"},{"x":-1,"y":-22,"t":"T.CD8"},{"x":0,"y":-23,"t":"T.CD8"},{"x":1,"y":-24,"t":"T.CD8"},{"x":-1,"y":-24,"t":"T.CD8"},
{"x":-7,"y":31,"t":"T.CD8"},{"x":-4,"y":31,"t":"T.CD8"},{"x":-1,"y":31,"t":"T.CD8"},{"x":-8,"y":29,"t":"T.CD8"},{"x":-5,"y":29,"t":"T.CD8"},{"x":-2,"y":29,"t":"T.CD8"},{"x":1,"y":29,"t":"T.CD8"},{"x":4,"y":29,"t":"T.CD8"},{"x":-10,"y":27,"t":"T.CD8"},{"x":-7,"y":27,"t":"T.CD8"},{"x":-4,"y":27,"t":"T.CD8"},{"x":-1,"y":27,"t":"T.CD8"},{"x":2,"y":27,"t":"T.CD8"},{"x":5,"y":27,"t":"T.CD8"},{"x":-12,"y":25,"t":"T.CD8"},{"x":-9,"y":25,"t":"T.CD8"},{"x":-6,"y":25,"t":"T.CD8"},{"x":-3,"y":25,"t":"T.CD8"},{"x":0,"y":25,"t":"T.CD8"},{"x":3,"y":25,"t":"T.CD8"},{"x":6,"y":25,"t":"T.CD8"},{"x":-14,"y":23,"t":"T.CD8"},{"x":-11,"y":23,"t":"T.CD8"},{"x":-8,"y":23,"t":"T.CD8"},{"x":-5,"y":23,"t":"T.CD8"},{"x":-2,"y":23,"t":"T.CD8"},{"x":1,"y":23,"t":"T.CD8"},{"x":4,"y":23,"t":"T.CD8"},{"x":7,"y":23,"t":"T.CD8"},{"x":16,"y":23,"t":"T.CD8"},{"x":19,"y":23,"t":"T.CD8"},{"x":-15,"y":21,"t":"T.CD8"},{"x":-12,"y":21,"t":"T.CD8"},{"x":-9,"y":21,"t":"T.CD8"},{"x":-6,"y":21,"t":"T.CD8"},{"x":-3,"y":21,"t":"T.CD8"},{"x":0,"y":21,"t":"T.CD8"},{"x":3,"y":21,"t":"T.CD8"},{"x":6,"y":21,"t":"T.CD8"},{"x":9,"y":21,"t":"T.CD8"},{"x":15,"y":21,"t":"T.CD8"},{"x":18,"y":21,"t":"T.CD8"},{"x":-16,"y":19,"t":"T.CD8"},{"x":-13,"y":19,"t":"T.CD8"},{"x":-10,"y":19,"t":"T.CD8"},{"x":-7,"y":19,"t":"T.CD8"},{"x":-4,"y":19,"t":"T.CD8"},{"x":-1,"y":19,"t":"T.CD8"},{"x":2,"y":19,"t":"T.CD8"},{"x":5,"y":19,"t":"T.CD8"},{"x":8,"y":19,"t":"T.CD8"},{"x":16,"y":19,"t":"T.CD8"},{"x":19,"y":19,"t":"T.CD8"},{"x":-16,"y":17,"t":"T.CD8"},{"x":-13,"y":17,"t":"T.CD8"},{"x":-10,"y":17,"t":"T.CD8"},{"x":-7,"y":17,"t":"T.CD8"},{"x":-4,"y":17,"t":"T.CD8"},{"x":-1,"y":17,"t":"T.CD8"},{"x":2,"y":17,"t":"T.CD8"},{"x":5,"y":17,"t":"T.CD8"},{"x":8,"y":17,"t":"T.CD8"},{"x":-15,"y":15,"t":"T.CD8"},{"x":-12,"y":15,"t":"T.CD8"},{"x":-9,"y":15,"t":"T.CD8"},{"x":-6,"y":15,"t":"T.CD8"},{"x":-3,"y":15,"t":"T.CD8"},{"x":0,"y":15,"t":"T.CD8"},{"x":3,"y":15,"t":"T.CD8"},{"x":6,"y":15,"t":"T.CD8"},{"x":-14,"y":13,"t":"T.CD8"},{"x":-11,"y":13,"t":"T.CD8"},{"x":-8,"y":13,"t":"T.CD8"},{"x":-5,"y":13,"t":"T.CD8"},{"x":-2,"y":13,"t":"T.CD8"},{"x":1,"y":13,"t":"T.CD8"},{"x":4,"y":13,"t":"T.CD8"},{"x":-12,"y":11,"t":"T.CD8"},{"x":-9,"y":11,"t":"T.CD8"},{"x":-6,"y":11,"t":"T.CD8"},{"x":-3,"y":11,"t":"T.CD8"},{"x":0,"y":11,"t":"T.CD8"},{"x":3,"y":11,"t":"T.CD8"},{"x":-11,"y":9,"t":"T.CD8"},{"x":-8,"y":9,"t":"T.CD8"},{"x":-5,"y":9,"t":"T.CD8"},{"x":-2,"y":9,"t":"T.CD8"},{"x":1,"y":9,"t":"T.CD8"},{"x":-10,"y":7,"t":"T.CD8"},{"x":-7,"y":7,"t":"T.CD8"},{"x":-4,"y":7,"t":"T.CD8"},{"x":-1,"y":7,"t":"T.CD8"},{"x":-8,"y":5,"t":"T.CD8"},{"x":-5,"y":5,"t":"T.CD8"},{"x":-2,"y":5,"t":"T.CD8"},{"x":-7,"y":3,"t":"T.CD8"},{"x":-4,"y":3,"t":"T.CD8"},
{"x":14,"y":16,"t":"T.CD4"},{"x":16,"y":16,"t":"T.CD4"},{"x":15,"y":14,"t":"T.CD4"},{"x":13,"y":14,"t":"T.CD4"},{"x":14,"y":12,"t":"T.CD4"},{"x":16,"y":12,"t":"T.CD4"},{"x":12,"y":12,"t":"T.CD4"},{"x":4,"y":10,"t":"T.CD4"},{"x":7,"y":10,"t":"T.CD4"},{"x":10,"y":10,"t":"T.CD4"},{"x":13,"y":10,"t":"T.CD4"},{"x":16,"y":10,"t":"T.CD4"},{"x":2,"y":8,"t":"T.CD4"},{"x":5,"y":8,"t":"T.CD4"},{"x":8,"y":8,"t":"T.CD4"},{"x":11,"y":8,"t":"T.CD4"},{"x":14,"y":8,"t":"T.CD4"},{"x":17,"y":8,"t":"T.CD4"},{"x":-4,"y":6,"t":"T.CD4"},{"x":0,"y":6,"t":"T.CD4"},{"x":3,"y":6,"t":"T.CD4"},{"x":6,"y":6,"t":"T.CD4"},{"x":9,"y":6,"t":"T.CD4"},{"x":12,"y":6,"t":"T.CD4"},{"x":15,"y":6,"t":"T.CD4"},{"x":18,"y":6,"t":"T.CD4"},{"x":-2,"y":4,"t":"T.CD4"},{"x":1,"y":4,"t":"T.CD4"},{"x":4,"y":4,"t":"T.CD4"},{"x":7,"y":4,"t":"T.CD4"},{"x":10,"y":4,"t":"T.CD4"},{"x":13,"y":4,"t":"T.CD4"},{"x":16,"y":4,"t":"T.CD4"},{"x":19,"y":4,"t":"T.CD4"},{"x":0,"y":2,"t":"T.CD4"},{"x":3,"y":2,"t":"T.CD4"},{"x":6,"y":2,"t":"T.CD4"},{"x":9,"y":2,"t":"T.CD4"},{"x":12,"y":2,"t":"T.CD4"},{"x":15,"y":2,"t":"T.CD4"},{"x":18,"y":2,"t":"T.CD4"},{"x":-3,"y":0,"t":"T.CD4"},{"x":1,"y":0,"t":"T.CD4"},{"x":4,"y":0,"t":"T.CD4"},{"x":7,"y":0,"t":"T.CD4"},{"x":10,"y":0,"t":"T.CD4"},{"x":13,"y":0,"t":"T.CD4"},{"x":16,"y":0,"t":"T.CD4"},{"x":-1,"y":-2,"t":"T.CD4"},{"x":2,"y":-2,"t":"T.CD4"},{"x":5,"y":-2,"t":"T.CD4"},{"x":8,"y":-2,"t":"T.CD4"},{"x":11,"y":-2,"t":"T.CD4"},{"x":14,"y":-2,"t":"T.CD4"},{"x":17,"y":-2,"t":"T.CD4"},{"x":0,"y":-4,"t":"T.CD4"},{"x":3,"y":-4,"t":"T.CD4"},{"x":6,"y":-4,"t":"T.CD4"},{"x":9,"y":-4,"t":"T.CD4"},{"x":12,"y":-4,"t":"T.CD4"},{"x":15,"y":-4,"t":"T.CD4"},{"x":2,"y":-6,"t":"T.CD4"},{"x":5,"y":-6,"t":"T.CD4"},{"x":8,"y":-6,"t":"T.CD4"},{"x":11,"y":-6,"t":"T.CD4"},{"x":14,"y":-6,"t":"T.CD4"},{"x":6,"y":-8,"t":"T.CD4"},{"x":9,"y":-8,"t":"T.CD4"},{"x":12,"y":-8,"t":"T.CD4"},{"x":0,"y":-15,"t":"T.CD4"},{"x":-0.5,"y":-17,"t":"T.CD4"},{"x":-10,"y":-2,"t":"T.CD4"},{"x":-7,"y":0,"t":"T.CD4"},
{"x":14,"y":15,"t":"T.CD4"},{"x":14,"y":13,"t":"T.CD4"},{"x":16,"y":13,"t":"T.CD4"},{"x":13,"y":11,"t":"T.CD4"},{"x":15,"y":11,"t":"T.CD4"},{"x":3,"y":9,"t":"T.CD4"},{"x":6,"y":9,"t":"T.CD4"},{"x":9,"y":9,"t":"T.CD4"},{"x":12,"y":9,"t":"T.CD4"},{"x":15,"y":9,"t":"T.CD4"},{"x":1,"y":7,"t":"T.CD4"},{"x":4,"y":7,"t":"T.CD4"},{"x":7,"y":7,"t":"T.CD4"},{"x":10,"y":7,"t":"T.CD4"},{"x":13,"y":7,"t":"T.CD4"},{"x":16,"y":7,"t":"T.CD4"},{"x":18,"y":7,"t":"T.CD4"},{"x":-3,"y":5,"t":"T.CD4"},{"x":-1,"y":5,"t":"T.CD4"},{"x":2,"y":5,"t":"T.CD4"},{"x":5,"y":5,"t":"T.CD4"},{"x":8,"y":5,"t":"T.CD4"},{"x":11,"y":5,"t":"T.CD4"},{"x":14,"y":5,"t":"T.CD4"},{"x":17,"y":5,"t":"T.CD4"},{"x":1,"y":3,"t":"T.CD4"},{"x":4,"y":3,"t":"T.CD4"},{"x":7,"y":3,"t":"T.CD4"},{"x":10,"y":3,"t":"T.CD4"},{"x":13,"y":3,"t":"T.CD4"},{"x":16,"y":3,"t":"T.CD4"},{"x":-2,"y":1,"t":"T.CD4"},{"x":2,"y":1,"t":"T.CD4"},{"x":5,"y":1,"t":"T.CD4"},{"x":8,"y":1,"t":"T.CD4"},{"x":11,"y":1,"t":"T.CD4"},{"x":14,"y":1,"t":"T.CD4"},{"x":17,"y":1,"t":"T.CD4"},{"x":19,"y":1,"t":"T.CD4"},{"x":0,"y":-1,"t":"T.CD4"},{"x":3,"y":-1,"t":"T.CD4"},{"x":6,"y":-1,"t":"T.CD4"},{"x":9,"y":-1,"t":"T.CD4"},{"x":12,"y":-1,"t":"T.CD4"},{"x":15,"y":-1,"t":"T.CD4"},{"x":1,"y":-3,"t":"T.CD4"},{"x":4,"y":-3,"t":"T.CD4"},{"x":7,"y":-3,"t":"T.CD4"},{"x":10,"y":-3,"t":"T.CD4"},{"x":13,"y":-3,"t":"T.CD4"},{"x":16,"y":-3,"t":"T.CD4"},{"x":1,"y":-5,"t":"T.CD4"},{"x":4,"y":-5,"t":"T.CD4"},{"x":6,"y":-5,"t":"T.CD4"},{"x":10,"y":-5,"t":"T.CD4"},{"x":13,"y":-5,"t":"T.CD4"},{"x":16,"y":-5,"t":"T.CD4"},{"x":3,"y":-7,"t":"T.CD4"},{"x":7,"y":-7,"t":"T.CD4"},{"x":10,"y":-7,"t":"T.CD4"},{"x":13,"y":-7,"t":"T.CD4"},{"x":7,"y":-9,"t":"T.CD4"},{"x":11,"y":-9,"t":"T.CD4"},
{"x":2,"y":2.5,"t":"T Cell"},{"x":7,"y":2.5,"t":"T Cell"},{"x":12,"y":2.5,"t":"T Cell"},{"x":-1,"y":-0.5,"t":"T Cell"},{"x":5,"y":-0.5,"t":"T Cell"},{"x":11,"y":-0.5,"t":"T Cell"},{"x":14,"y":0.5,"t":"T Cell"},{"x":1,"y":-2.5,"t":"T Cell"},{"x":4,"y":-3,"t":"T Cell"},{"x":9,"y":-2.5,"t":"T Cell"},{"x":2,"y":-5,"t":"T Cell"},{"x":7,"y":-4.5,"t":"T Cell"},{"x":11,"y":-4.5,"t":"T Cell"},{"x":4,"y":-6.5,"t":"T Cell"},{"x":9,"y":-6.5,"t":"T Cell"},{"x":12,"y":-6.5,"t":"T Cell"},{"x":8,"y":-8.5,"t":"T Cell"},{"x":10,"y":-9,"t":"T Cell"},{"x":-7,"y":6.5,"t":"T Cell"},{"x":-2,"y":5.5,"t":"T Cell"},{"x":5,"y":6.5,"t":"T Cell"},{"x":10,"y":6.5,"t":"T Cell"},{"x":-9,"y":10.5,"t":"T Cell"},{"x":-3,"y":10.5,"t":"T Cell"},{"x":2,"y":9.5,"t":"T Cell"},{"x":8,"y":10.5,"t":"T Cell"},{"x":-12,"y":14.5,"t":"T Cell"},{"x":-6,"y":14.5,"t":"T Cell"},{"x":0,"y":14,"t":"T Cell"},{"x":4,"y":14.5,"t":"T Cell"},{"x":-15,"y":18.5,"t":"T Cell"},{"x":-9,"y":18.5,"t":"T Cell"},{"x":-3,"y":18.5,"t":"T Cell"},{"x":3,"y":18.5,"t":"T Cell"},{"x":-11,"y":22.5,"t":"T Cell"},{"x":-5,"y":22.5,"t":"T Cell"},{"x":1,"y":22.5,"t":"T Cell"},{"x":-7,"y":26.5,"t":"T Cell"},{"x":0,"y":26.5,"t":"T Cell"},{"x":-5,"y":30,"t":"T Cell"},{"x":28,"y":28,"t":"T Cell"},{"x":29,"y":27.5,"t":"T Cell"},{"x":28,"y":26.5,"t":"T Cell"},{"x":27,"y":27,"t":"T Cell"},{"x":29,"y":25,"t":"T Cell"},{"x":28,"y":24,"t":"T Cell"},{"x":26,"y":20,"t":"T Cell"},{"x":3,"y":3.5,"t":"T Cell"},{"x":8,"y":1,"t":"T Cell"},{"x":13,"y":1.5,"t":"T Cell"},{"x":6,"y":-1.5,"t":"T Cell"},{"x":10,"y":-3.5,"t":"T Cell"},{"x":3,"y":-4.5,"t":"T Cell"},{"x":6,"y":-6,"t":"T Cell"},{"x":13,"y":-3.5,"t":"T Cell"},{"x":1,"y":1,"t":"T Cell"},{"x":5,"y":4.5,"t":"T Cell"},{"x":11,"y":4.5,"t":"T Cell"},{"x":-8,"y":9.5,"t":"T Cell"},
{"x":-14,"y":-27,"t":"CAF"},{"x":-13,"y":-26.5,"t":"CAF"},{"x":-15,"y":-28,"t":"CAF"},{"x":-14,"y":-29,"t":"CAF"},{"x":-14.5,"y":-30,"t":"CAF"},{"x":-15,"y":-31,"t":"CAF"},{"x":-12.5,"y":-27,"t":"CAF"},{"x":-36,"y":-20,"t":"CAF"},{"x":-35,"y":-21,"t":"CAF"},{"x":-36,"y":-21,"t":"CAF"},{"x":-16,"y":-36,"t":"CAF"},{"x":-27,"y":-35,"t":"CAF"},{"x":-25,"y":-35,"t":"CAF"},{"x":-41,"y":-3.5,"t":"CAF"},{"x":-38,"y":0,"t":"CAF"},{"x":3,"y":-34,"t":"CAF"},{"x":2,"y":1.5,"t":"CAF"},{"x":-6,"y":-20,"t":"CAF"},{"x":-2,"y":-7,"t":"CAF"},{"x":8,"y":-36,"t":"CAF"},
{"x":4,"y":-46,"t":"Endo"},{"x":5,"y":-46,"t":"Endo"},{"x":6,"y":-46,"t":"Endo"},{"x":5,"y":-47,"t":"Endo"},{"x":5,"y":-45,"t":"Endo"},{"x":-2.5,"y":-52,"t":"Endo"},{"x":-2.5,"y":-53,"t":"Endo"},{"x":-2.5,"y":-54,"t":"Endo"},{"x":-2.5,"y":-55,"t":"Endo"},
{"x":-13,"y":-3,"t":"Unknown"},{"x":-11,"y":-2,"t":"Unknown"},{"x":-9,"y":-3,"t":"Unknown"},{"x":-7,"y":-2,"t":"Unknown"},{"x":-14,"y":-6,"t":"Unknown"},{"x":-10,"y":-6,"t":"Unknown"},{"x":-8,"y":-5,"t":"Unknown"},{"x":-6,"y":-5,"t":"Unknown"},{"x":-12,"y":-8,"t":"Unknown"},{"x":-4,"y":-8,"t":"Unknown"},{"x":-7,"y":-9,"t":"Unknown"},{"x":-14,"y":14.5,"t":"Unknown"},{"x":-8,"y":12,"t":"Unknown"},{"x":-4,"y":8,"t":"Unknown"},{"x":1,"y":6,"t":"Unknown"},{"x":8,"y":3,"t":"Unknown"},{"x":3,"y":-1,"t":"Unknown"},{"x":6,"y":-3,"t":"Unknown"},{"x":-2,"y":-3,"t":"Unknown"},{"x":14,"y":-5,"t":"Unknown"},{"x":11,"y":-8,"t":"Unknown"},{"x":17,"y":-6,"t":"Unknown"},{"x":-10,"y":4,"t":"Unknown"},{"x":-16,"y":20,"t":"Unknown"},{"x":19,"y":20,"t":"Unknown"},{"x":-3,"y":24,"t":"Unknown"},{"x":20,"y":22,"t":"Unknown"},{"x":21,"y":19,"t":"Unknown"},{"x":9,"y":9,"t":"Unknown"},{"x":5,"y":0,"t":"Unknown"},{"x":7,"y":-5,"t":"Unknown"},{"x":10,"y":-1,"t":"Unknown"},{"x":-42,"y":-30,"t":"Unknown"},{"x":-41,"y":-29.5,"t":"Unknown"},{"x":-40.5,"y":-29.5,"t":"Unknown"},{"x":2,"y":-44,"t":"Unknown"},{"x":3,"y":-45,"t":"Unknown"},{"x":-2,"y":-12,"t":"Unknown"},{"x":-1,"y":-11,"t":"Unknown"},{"x":-27,"y":-35,"t":"Unknown"},{"x":-24,"y":-35,"t":"Unknown"},{"x":-26,"y":-32,"t":"Unknown"},{"x":4,"y":-35,"t":"Unknown"},{"x":7,"y":-32,"t":"Unknown"},{"x":-25,"y":-15,"t":"Unknown"},{"x":-24,"y":-17,"t":"Unknown"},{"x":-4,"y":-22,"t":"Unknown"},{"x":-4,"y":-35,"t":"Unknown"},{"x":-17,"y":-34,"t":"Unknown"},{"x":-34,"y":-2.5,"t":"Unknown"},{"x":-32,"y":-3,"t":"Unknown"},{"x":-29,"y":20,"t":"Unknown"},{"x":25,"y":-10,"t":"Unknown"},{"x":27,"y":-11,"t":"Unknown"},{"x":31,"y":14,"t":"Unknown"},{"x":24,"y":7,"t":"Unknown"},{"x":23,"y":3,"t":"Unknown"}],
"hi":[
{"g":"OLFML2B","x":-14,"y":-27,"e":2.5},{"g":"OLFML2B","x":-15,"y":-29,"e":2.7},{"g":"OLFML2B","x":-14.5,"y":-31,"e":2.5},{"g":"OLFML2B","x":16,"y":-20,"e":2},{"g":"OLFML2B","x":18,"y":-19,"e":2},{"g":"OLFML2B","x":21,"y":-18,"e":2},{"g":"OLFML2B","x":23,"y":-19,"e":1.8},{"g":"OLFML2B","x":24,"y":-21,"e":2},{"g":"OLFML2B","x":26,"y":-20,"e":1.8},{"g":"OLFML2B","x":25,"y":-19,"e":2},{"g":"OLFML2B","x":29,"y":-18,"e":2},{"g":"OLFML2B","x":6,"y":-34,"e":1.5},{"g":"OLFML2B","x":5,"y":-35,"e":1.5},{"g":"OLFML2B","x":17,"y":-32,"e":1.5},{"g":"OLFML2B","x":18,"y":-34,"e":1.5},
{"g":"ADAM12","x":-14,"y":-29,"e":2.5},{"g":"ADAM12","x":-15,"y":-30,"e":2.2},{"g":"ADAM12","x":-13,"y":-27,"e":2},{"g":"ADAM12","x":17,"y":-32,"e":2},{"g":"ADAM12","x":18,"y":-33,"e":2},{"g":"ADAM12","x":19,"y":-34,"e":2},{"g":"ADAM12","x":6,"y":16,"e":1.8},{"g":"ADAM12","x":2,"y":7,"e":1.5},{"g":"ADAM12","x":-3,"y":5,"e":1.5},{"g":"ADAM12","x":8,"y":5,"e":1.5},{"g":"ADAM12","x":-25,"y":-17,"e":1.5},{"g":"ADAM12","x":-15,"y":-18,"e":1.5},{"g":"ADAM12","x":-20,"y":-5,"e":1.2},{"g":"ADAM12","x":14,"y":3,"e":1.5},{"g":"ADAM12","x":10,"y":12,"e":1.2},
{"g":"VCAN","x":-14,"y":-28,"e":4},{"g":"VCAN","x":-15,"y":-30,"e":3.5},{"g":"VCAN","x":-13,"y":-27,"e":3.5},{"g":"VCAN","x":-26,"y":-22,"e":2},{"g":"VCAN","x":-24,"y":-23,"e":2},{"g":"VCAN","x":6,"y":-46,"e":2.5},{"g":"VCAN","x":5,"y":-46,"e":2.5},{"g":"VCAN","x":28,"y":-16,"e":4.5},{"g":"VCAN","x":29,"y":-17,"e":5},{"g":"VCAN","x":30,"y":-18,"e":5},{"g":"VCAN","x":29,"y":-15,"e":4},{"g":"VCAN","x":27,"y":-18,"e":3},{"g":"VCAN","x":24,"y":-19,"e":3},{"g":"VCAN","x":22,"y":-20,"e":2.5},{"g":"VCAN","x":20,"y":-19,"e":2},{"g":"VCAN","x":25,"y":-20,"e":2.5},{"g":"VCAN","x":28,"y":-20,"e":3},{"g":"VCAN","x":-5,"y":-11,"e":2},{"g":"VCAN","x":-17,"y":-36,"e":2},{"g":"VCAN","x":6,"y":-34,"e":1.5},
{"g":"SIGLEC1","x":16,"y":-21,"e":2.2},{"g":"SIGLEC1","x":18,"y":-20,"e":2.2},{"g":"SIGLEC1","x":20,"y":-19,"e":2},{"g":"SIGLEC1","x":21,"y":-22,"e":2},{"g":"SIGLEC1","x":23,"y":-22,"e":2.2},{"g":"SIGLEC1","x":24,"y":-24,"e":2.2},{"g":"SIGLEC1","x":25,"y":-23,"e":2},{"g":"SIGLEC1","x":27,"y":-17,"e":2},{"g":"SIGLEC1","x":29,"y":-18,"e":2},{"g":"SIGLEC1","x":28,"y":-16,"e":2},{"g":"SIGLEC1","x":26,"y":-15,"e":1.8},{"g":"SIGLEC1","x":22,"y":-20,"e":2},{"g":"SIGLEC1","x":23,"y":-18,"e":1.8},
{"g":"PDGFRB","x":-14,"y":-27,"e":3.2},{"g":"PDGFRB","x":-15,"y":-30,"e":3.2},{"g":"PDGFRB","x":-13,"y":-28,"e":3},{"g":"PDGFRB","x":1,"y":37,"e":2},{"g":"PDGFRB","x":2,"y":35,"e":1.5},{"g":"PDGFRB","x":3,"y":33,"e":1.5},{"g":"PDGFRB","x":0,"y":12,"e":1.5},{"g":"PDGFRB","x":-1,"y":-2,"e":1.5},{"g":"PDGFRB","x":6,"y":-34,"e":1},{"g":"PDGFRB","x":17,"y":-33,"e":1.2},{"g":"PDGFRB","x":-25,"y":-15,"e":1},{"g":"PDGFRB","x":20,"y":-22,"e":1},
{"g":"CD163","x":14,"y":-20,"e":2},{"g":"CD163","x":16,"y":-21,"e":2.2},{"g":"CD163","x":18,"y":-19,"e":2.2},{"g":"CD163","x":20,"y":-18,"e":2},{"g":"CD163","x":19,"y":-22,"e":2},{"g":"CD163","x":21,"y":-23,"e":2.2},{"g":"CD163","x":23,"y":-24,"e":2},{"g":"CD163","x":25,"y":-22,"e":2},{"g":"CD163","x":23,"y":-20,"e":2.2},{"g":"CD163","x":22,"y":-16,"e":2},{"g":"CD163","x":24,"y":-17,"e":2.2},{"g":"CD163","x":26,"y":-16,"e":2},{"g":"CD163","x":28,"y":-17,"e":2.2},{"g":"CD163","x":30,"y":-18,"e":2.2},{"g":"CD163","x":27,"y":-19,"e":2},{"g":"CD163","x":25,"y":-19,"e":2},{"g":"CD163","x":21,"y":-11,"e":1.2},{"g":"CD163","x":24,"y":-14,"e":1.5},{"g":"CD163","x":-8,"y":-6,"e":2},
{"g":"COL6A3","x":-13,"y":-27,"e":3.5},{"g":"COL6A3","x":-14,"y":-29,"e":3.5},{"g":"COL6A3","x":-15,"y":-31,"e":3.2},{"g":"COL6A3","x":-14,"y":-28,"e":3},{"g":"COL6A3","x":0,"y":32,"e":1.5},{"g":"COL6A3","x":4,"y":30,"e":1.2},{"g":"COL6A3","x":7,"y":33,"e":2},{"g":"COL6A3","x":10,"y":18,"e":1.2},{"g":"COL6A3","x":-9,"y":8,"e":1.2},{"g":"COL6A3","x":-2,"y":18,"e":1},{"g":"COL6A3","x":14,"y":8,"e":1.5},{"g":"COL6A3","x":18,"y":8,"e":1.2},{"g":"COL6A3","x":23,"y":8,"e":1.5},{"g":"COL6A3","x":-13,"y":0,"e":1.5},{"g":"COL6A3","x":-12,"y":-4,"e":1.5},{"g":"COL6A3","x":-5,"y":-15,"e":1},{"g":"COL6A3","x":8,"y":-35,"e":1.5},{"g":"COL6A3","x":-16,"y":-37,"e":1.5},{"g":"COL6A3","x":5,"y":16,"e":1},{"g":"COL6A3","x":-6,"y":25,"e":1},
{"g":"BCAT1","x":-17,"y":32,"e":1.5},{"g":"BCAT1","x":-8,"y":30,"e":1.5},{"g":"BCAT1","x":-15,"y":18,"e":1.2},{"g":"BCAT1","x":10,"y":22,"e":1.2},{"g":"BCAT1","x":5,"y":30,"e":1.5},{"g":"BCAT1","x":16,"y":20,"e":1.5},{"g":"BCAT1","x":15,"y":-20,"e":2},{"g":"BCAT1","x":17,"y":-21,"e":2},{"g":"BCAT1","x":18,"y":-16,"e":1.8},{"g":"BCAT1","x":22,"y":-19,"e":1.8},{"g":"BCAT1","x":19,"y":-21,"e":1.8},{"g":"BCAT1","x":25,"y":-17,"e":1.8},{"g":"BCAT1","x":29,"y":-18,"e":2},{"g":"BCAT1","x":27,"y":-16,"e":1.8},{"g":"BCAT1","x":21,"y":-23,"e":1.5},{"g":"BCAT1","x":16,"y":-32,"e":2},{"g":"BCAT1","x":18,"y":-34,"e":2.2},{"g":"BCAT1","x":19,"y":-35,"e":2},{"g":"BCAT1","x":6,"y":-34,"e":1.5},{"g":"BCAT1","x":-24,"y":-14,"e":1.8},{"g":"BCAT1","x":-14,"y":-28,"e":1.8},{"g":"BCAT1","x":-2,"y":-11,"e":1.5},{"g":"BCAT1","x":-12,"y":-8,"e":1.2},{"g":"BCAT1","x":-22,"y":-15,"e":1.5},{"g":"BCAT1","x":37,"y":3,"e":1},{"g":"BCAT1","x":28,"y":-1,"e":1},{"g":"BCAT1","x":-17,"y":-36,"e":1.5}]
},
"vconcat":[
{"resolve":{"scale":{"color":"independent","stroke":"independent"},"legend":{"color":"independent"}},"hconcat":[
 {"resolve":{"scale":{"color":"independent","stroke":"independent"},"legend":{"color":"independent"}},"vconcat":[
  {"title":{"text":"A","anchor":"start","frame":"group","fontSize":25,"font":"Noto Sans","fontWeight":"normal","color":"#111","dx":-39,"offset":13},"width":284,"height":182,
   "encoding":{"x":{"field":"l","type":"quantitative","scale":{"domain":[0.32,10.68],"range":[14,284],"nice":false,"zero":false},
        "axis":{"values":[1,2,3,4,5,6,7,8,9,10],"labelExpr":"['IFN-γ/IMS','T eff.','Exp. Immu.','IFN-γ','Roh Immu.','Davoli','Cytolytic','Huang NRS','IMPRES','Messina'][datum.value-1]","labelAngle":-57,"labelAlign":"right","labelBaseline":"middle","labelFontSize":13.5,"labelPadding":4,"tickSize":8,"title":null,"labelOverlap":false}},
      "y":{"field":"y","type":"quantitative","scale":{"domain":[0,1],"range":[182,8],"nice":false},"axis":{"values":[0,0.2,0.4,0.6,0.8,1],"format":".1f","offset":-14,"tickSize":8,"labelFontSize":14,"labelPadding":2,"title":"AUC","titleFontSize":14,"titlePadding":11,"labelOverlap":false}}},
   "layer":[
    {"data":{"name":"violin"},"mark":{"type":"area","orient":"horizontal","fillOpacity":0,"strokeWidth":1,"stroke":"#888"},
     "encoding":{"x2":{"field":"r"},
      "stroke":{"field":"g","type":"nominal","legend":null,"scale":{"domain":["IFN-γ/IMS","T eff.","Exp. Immu.","IFN-γ","Roh Immu.","Davoli","Cytolytic","Huang NRS","IMPRES","Messina"],"range":["#7F6DB8","#FF7A4D","#FFB998","#FF9AA2","#9FE4DF","#4A9D98","#7F90D8","#F0585C","#CDB8F0","#9ADAF3"]}}}},
    {"data":{"name":"quart"},"mark":{"type":"rule","strokeDash":[2,2],"strokeWidth":1},"encoding":{"x2":{"field":"r"},"stroke":{"field":"g","type":"nominal","legend":null}}},
    {"data":{"values":[{"l":0.74,"r":2.28,"y":0.908}]},"mark":{"type":"rule","stroke":"#777","strokeWidth":1},"encoding":{"x2":{"field":"r"}}},
    {"data":{"values":[{"l":2.27,"y":0.98,"label":"P<0.0001"}]},"mark":{"type":"text","fontSize":16.5,"font":"Noto Sans","color":"#222"},"encoding":{"text":{"field":"label"}}}
   ]},
  {"title":{"text":"C","anchor":"start","frame":"group","fontSize":25,"font":"Noto Sans","fontWeight":"normal","color":"#111","dx":-39,"offset":10},"width":266,"height":330,
   "encoding":{"x":{"field":"x","type":"quantitative","scale":{"domain":[-50.3,50],"range":[9,266],"nice":false,"zero":false},"axis":{"values":[-50,-25,0,25,50],"labelExpr":"''+datum.value","labelFontSize":14,"titleFontSize":14,"title":"t-SNE 1","labelPadding":3,"titlePadding":7,"tickSize":3}},
     "y":{"field":"y","type":"quantitative","scale":{"domain":[-58.75,44.4],"range":[330,0],"nice":false,"zero":false},"axis":{"values":[-40,-20,0,20,40],"labelExpr":"''+datum.value","offset":-9,"labelFontSize":14,"titleFontSize":14,"title":"t-SNE 2","labelPadding":2,"titlePadding":5,"tickSize":3}}},
   "layer":[
    {"data":{"name":"cells"},"mark":{"type":"point","filled":true,"size":20,"opacity":1},
     "encoding":{"color":{"field":"t","type":"nominal","scale":{"domain":["B cell","CAF","Endo","Macrophage","Melanoma","NK Cell","T.CD4","T.CD8","T Cell","Unknown"],"range":["#F97F78","#DE8C16","#A8A32A","#3DB81A","#4DBF80","#55C6CE","#5FACDC","#A192DC","#CC72C8","#E8609F"]},
       "legend":{"orient":"none","legendX":274,"legendY":76,"title":null,"labelFontSize":14.5,"symbolSize":42,"symbolType":"circle","labelOffset":2,"rowPadding":1.1,"padding":0,"labelColor":"#222"}}}},
    {"data":{"values":[
      {"k":"Mel","o":1,"x":-32.8,"y":24.7},{"k":"Mel","o":2,"x":-22.4,"y":21.8},{"k":"Mel","o":3,"x":-17.8,"y":18.2},{"k":"Mel","o":4,"x":-14.6,"y":7.3},{"k":"Mel","o":5,"x":-11.3,"y":-5.2},{"k":"Mel","o":6,"x":-12,"y":-14.5},{"k":"Mel","o":7,"x":-17.2,"y":-21.8},{"k":"Mel","o":8,"x":-28.2,"y":-26.6},{"k":"Mel","o":9,"x":-39.3,"y":-22.9},{"k":"Mel","o":10,"x":-46.4,"y":-11.4},{"k":"Mel","o":11,"x":-49.4,"y":2.1},{"k":"Mel","o":12,"x":-47.1,"y":14.5},{"k":"Mel","o":13,"x":-40.6,"y":22.3},
      {"k":"T","o":1,"x":-8.7,"y":31.7},{"k":"T","o":2,"x":-2.9,"y":31.4},{"k":"T","o":3,"x":7.5,"y":27},{"k":"T","o":4,"x":15.3,"y":18.7},{"k":"T","o":5,"x":20.5,"y":5.2},{"k":"T","o":6,"x":17.3,"y":-3.1},{"k":"T","o":7,"x":8.8,"y":-8.8},{"k":"T","o":8,"x":-0.3,"y":-6.8},{"k":"T","o":9,"x":-12,"y":4.2},{"k":"T","o":10,"x":-17.8,"y":16.6},{"k":"T","o":11,"x":-15.9,"y":26},
      {"k":"NK","o":1,"x":-1.6,"y":39.5},{"k":"NK","o":2,"x":0.4,"y":41.6},{"k":"NK","o":3,"x":3.6,"y":39.5},{"k":"NK","o":4,"x":6.9,"y":34.3},{"k":"NK","o":5,"x":5.6,"y":31.2},{"k":"NK","o":6,"x":1.7,"y":32.7},{"k":"NK","o":7,"x":-0.9,"y":36.4},
      {"k":"B","o":1,"x":35.5,"y":14.5},{"k":"B","o":2,"x":44,"y":12.5},{"k":"B","o":3,"x":47.6,"y":5},{"k":"B","o":4,"x":44,"y":-2.1},{"k":"B","o":5,"x":35.5,"y":-4.7},{"k":"B","o":6,"x":27,"y":-2.1},{"k":"B","o":7,"x":23.4,"y":5},{"k":"B","o":8,"x":27,"y":12},
      {"k":"Unk","o":1,"x":-15.9,"y":-6.2},{"k":"Unk","o":2,"x":-13.9,"y":-2.6},{"k":"Unk","o":3,"x":-8.1,"y":-0.8},{"k":"Unk","o":4,"x":-2.9,"y":-3.6},{"k":"Unk","o":5,"x":-0.3,"y":-7.3},{"k":"Unk","o":6,"x":-5.5,"y":-10.4},{"k":"Unk","o":7,"x":-13.3,"y":-10.4},
      {"k":"Mac","o":1,"x":21.8,"y":-8.8},{"k":"Mac","o":2,"x":28.3,"y":-10.4},{"k":"Mac","o":3,"x":31.7,"y":-15.6},{"k":"Mac","o":4,"x":29.7,"y":-21.8},{"k":"Mac","o":5,"x":21.8,"y":-25.1},{"k":"Mac","o":6,"x":15.3,"y":-23.4},{"k":"Mac","o":7,"x":12.2,"y":-17.7},{"k":"Mac","o":8,"x":15.3,"y":-11.4},
      {"k":"CAF","o":1,"x":-11.3,"y":-23.9},{"k":"CAF","o":2,"x":-9.6,"y":-26},{"k":"CAF","o":3,"x":-13.3,"y":-31.2},{"k":"CAF","o":4,"x":-17.2,"y":-32.9},{"k":"CAF","o":5,"x":-18.7,"y":-31.2},{"k":"CAF","o":6,"x":-15.2,"y":-26},
      {"k":"End","o":1,"x":4.3,"y":-42.8},{"k":"End","o":2,"x":6.9,"y":-45.2},{"k":"End","o":3,"x":3.6,"y":-49.9},{"k":"End","o":4,"x":-2.9,"y":-56.1},{"k":"End","o":5,"x":-5.5,"y":-55.1},{"k":"End","o":6,"x":-4.2,"y":-49.9},{"k":"End","o":7,"x":1.7,"y":-44.2}]},
     "mark":{"type":"line","interpolate":"cardinal-closed","strokeDash":[3,2.5],"strokeWidth":0.7,"color":"#444"},
     "encoding":{"detail":{"field":"k"},"order":{"field":"o","type":"quantitative"}}},
    {"data":{"values":[{"x":14.4,"y":40,"s":"NK Cell"},{"x":-18.2,"y":32.2,"s":"T Cell"},{"x":-32.2,"y":11.4,"s":"Melanoma"},{"x":42.7,"y":17.5,"s":"B Cell"},{"x":1,"y":-11.2,"s":"Unknown"},{"x":33.5,"y":-27.3,"s":"Macrophage"},{"x":-4.7,"y":-28.6,"s":"CAF"},{"x":13.4,"y":-51.2,"s":"Endo"}]},
     "mark":{"type":"text","fontSize":14.5,"font":"Noto Sans","color":"#222"},"encoding":{"text":{"field":"s"}}}
   ]}
 ],"spacing":116,"bounds":"flush"},
 {"title":{"text":"B","anchor":"start","frame":"group","fontSize":25,"font":"Noto Sans","fontWeight":"normal","color":"#111","dx":-90,"offset":13},"width":257,"height":610,
  "data":{"values":[{"g":"*OLFML2B","n":25},{"g":"*AXL","n":24},{"g":"*ADAM12","n":23},{"g":"*STC1","n":23},{"g":"*VCAN","n":22},{"g":"*PDGFRB","n":21},{"g":"SERPINH1","n":21},{"g":"P4HA2","n":20},{"g":"*INHBA","n":15},{"g":"PDGFB","n":12},{"g":"LOXL2","n":11},{"g":"*BCAT1","n":10},{"g":"*COL6A3","n":10},{"g":"ROR2","n":9},{"g":"*SIGLEC1","n":9},{"g":"*CD163","n":8},{"g":"*IL10","n":8},{"g":"MMP1","n":8},{"g":"TGFB3","n":8},{"g":"*TWIST2","n":8},{"g":"ADM","n":7},{"g":"FLT1","n":7},{"g":"VEGFC","n":7}]},
  "resolve":{"axis":{"x":"independent"}},
  "layer":[
   {"mark":{"type":"bar","color":"#EE4540"},"encoding":{"y":{"field":"g","type":"nominal","sort":null,"scale":{"paddingInner":0.33,"paddingOuter":0.395,"align":0.55},"axis":{"tickSize":13,"tickColor":"#666","domainColor":"#666","labelFontSize":13.5,"labelPadding":2,"title":"Gene","titleFontSize":15,"titleX":-87,"titleY":280}},
     "x":{"field":"n","type":"quantitative","scale":{"domain":[0,30],"nice":false},"axis":{"orient":"bottom","values":[0,10,20,30],"tickSize":21,"tickColor":"#555","domainColor":"#555","labelFontSize":14,"labelPadding":7,"title":"Counts","titleFontSize":14.5,"titlePadding":4}}}},
   {"mark":{"type":"bar","opacity":0},"encoding":{"y":{"field":"g","type":"nominal","sort":null},
     "x":{"field":"n","type":"quantitative","axis":{"orient":"bottom","values":[1,2,3,4,5,6,7,8,9,11,12,13,14,15,16,17,18,19,21,22,23,24,25,26,27,28,29],"tickSize":12,"tickColor":"#555","domainColor":"#555","labels":false,"title":null}}}}
  ]}
],"spacing":473,"bounds":"flush"},
{"title":{"text":"D","anchor":"start","frame":"group","fontSize":25,"font":"Noto Sans","fontWeight":"normal","color":"#111","dx":-39,"offset":12},"resolve":{"scale":{"color":"independent"},"legend":{"color":"independent"}},"vconcat":[
{"resolve":{"scale":{"color":"independent"},"legend":{"color":"independent"}},"hconcat":[
 {"title":"OLFML2B","width":102,"height":120,"encoding":{"x":{"field":"x","type":"quantitative","scale":{"domain":[-50,50],"nice":false,"zero":false},"axis":{"values":[-50,-25,0,25,50],"labelExpr":"''+datum.value","title":"t-SNE 1"}},"y":{"field":"y","type":"quantitative","scale":{"domain":[-59.7,44.3],"nice":false,"zero":false},"axis":{"values":[-40,-20,0,20,40],"labelExpr":"''+datum.value","title":"t-SNE 2","titlePadding":0}}},
  "layer":[{"data":{"name":"cells"},"mark":{"type":"point","filled":true,"size":5,"color":"#C9C9C9","opacity":1}},
   {"data":{"name":"hi"},"transform":[{"filter":"datum.g=='OLFML2B'"}],"mark":{"type":"point","filled":true,"size":4,"opacity":1},"encoding":{"color":{"field":"e","type":"quantitative","scale":{"domain":[0,1.5,3],"range":["#C9C9C9","#F58A6C","#DE2C12"]},"legend":{"orient":"none","legendX":111,"legendY":40,"title":null,"gradientLength":44,"gradientThickness":10,"values":[0,1,2,3],"labelOverlap":false,"labelFontSize":8.5,"labelOffset":3,"padding":0}}}}]},
 {"title":"ADAM12","width":102,"height":120,"encoding":{"x":{"field":"x","type":"quantitative","scale":{"domain":[-50,50],"nice":false,"zero":false},"axis":{"values":[-50,-25,0,25,50],"labelExpr":"''+datum.value","title":"t-SNE 1"}},"y":{"field":"y","type":"quantitative","scale":{"domain":[-59.7,44.3],"nice":false,"zero":false},"axis":{"values":[-40,-20,0,20,40],"labelExpr":"''+datum.value","title":"t-SNE 2","titlePadding":0}}},
  "layer":[{"data":{"name":"cells"},"mark":{"type":"point","filled":true,"size":5,"color":"#C9C9C9","opacity":1}},
   {"data":{"name":"hi"},"transform":[{"filter":"datum.g=='ADAM12'"}],"mark":{"type":"point","filled":true,"size":4,"opacity":1},"encoding":{"color":{"field":"e","type":"quantitative","scale":{"domain":[0,1.5,3],"range":["#C9C9C9","#F58A6C","#DE2C12"]},"legend":{"orient":"none","legendX":111,"legendY":40,"title":null,"gradientLength":44,"gradientThickness":10,"values":[0,1,2,3],"labelOverlap":false,"labelFontSize":8.5,"labelOffset":3,"padding":0}}}}]},
 {"title":"VCAN","width":102,"height":120,"encoding":{"x":{"field":"x","type":"quantitative","scale":{"domain":[-50,50],"nice":false,"zero":false},"axis":{"values":[-50,-25,0,25,50],"labelExpr":"''+datum.value","title":"t-SNE 1"}},"y":{"field":"y","type":"quantitative","scale":{"domain":[-59.7,44.3],"nice":false,"zero":false},"axis":{"values":[-40,-20,0,20,40],"labelExpr":"''+datum.value","title":"t-SNE 2","titlePadding":0}}},
  "layer":[{"data":{"name":"cells"},"mark":{"type":"point","filled":true,"size":5,"color":"#C9C9C9","opacity":1}},
   {"data":{"name":"hi"},"transform":[{"filter":"datum.g=='VCAN'"}],"mark":{"type":"point","filled":true,"size":4,"opacity":1},"encoding":{"color":{"field":"e","type":"quantitative","scale":{"domain":[0,2.5,5],"range":["#C9C9C9","#F58A6C","#DE2C12"]},"legend":{"orient":"none","legendX":109,"legendY":26,"title":null,"gradientLength":71,"gradientThickness":10,"values":[0,1,2,3,4,5],"labelOverlap":false,"labelFontSize":8.5,"labelOffset":3,"padding":0}}}}]},
 {"title":"SIGLEC1","width":102,"height":120,"encoding":{"x":{"field":"x","type":"quantitative","scale":{"domain":[-50,50],"nice":false,"zero":false},"axis":{"values":[-50,-25,0,25,50],"labelExpr":"''+datum.value","title":"t-SNE 1"}},"y":{"field":"y","type":"quantitative","scale":{"domain":[-59.7,44.3],"nice":false,"zero":false},"axis":{"values":[-40,-20,0,20,40],"labelExpr":"''+datum.value","title":"t-SNE 2","titlePadding":0}}},
  "layer":[{"data":{"name":"cells"},"mark":{"type":"point","filled":true,"size":5,"color":"#C9C9C9","opacity":1}},
   {"data":{"name":"hi"},"transform":[{"filter":"datum.g=='SIGLEC1'"}],"mark":{"type":"point","filled":true,"size":4,"opacity":1},"encoding":{"color":{"field":"e","type":"quantitative","scale":{"domain":[0,1.5,3],"range":["#C9C9C9","#F58A6C","#DE2C12"]},"legend":{"orient":"none","legendX":111,"legendY":40,"title":null,"gradientLength":44,"gradientThickness":10,"values":[0,1,2,3],"labelOverlap":false,"labelFontSize":8.5,"labelOffset":3,"padding":0}}}}]}
],"spacing":85,"bounds":"flush"},
{"resolve":{"scale":{"color":"independent"},"legend":{"color":"independent"}},"hconcat":[
 {"title":"PDGFRB","width":102,"height":120,"encoding":{"x":{"field":"x","type":"quantitative","scale":{"domain":[-50,50],"nice":false,"zero":false},"axis":{"values":[-50,-25,0,25,50],"labelExpr":"''+datum.value","title":"t-SNE 1"}},"y":{"field":"y","type":"quantitative","scale":{"domain":[-59.7,44.3],"nice":false,"zero":false},"axis":{"values":[-40,-20,0,20,40],"labelExpr":"''+datum.value","title":"t-SNE 2","titlePadding":0}}},
  "layer":[{"data":{"name":"cells"},"mark":{"type":"point","filled":true,"size":5,"color":"#C9C9C9","opacity":1}},
   {"data":{"name":"hi"},"transform":[{"filter":"datum.g=='PDGFRB'"}],"mark":{"type":"point","filled":true,"size":4,"opacity":1},"encoding":{"color":{"field":"e","type":"quantitative","scale":{"domain":[0,2,4],"range":["#C9C9C9","#F58A6C","#DE2C12"]},"legend":{"orient":"none","legendX":110,"legendY":34,"title":null,"gradientLength":54,"gradientThickness":10,"values":[0,1,2,3,4],"labelOverlap":false,"labelFontSize":8.5,"labelOffset":3,"padding":0}}}}]},
 {"title":"CD163","width":102,"height":120,"encoding":{"x":{"field":"x","type":"quantitative","scale":{"domain":[-50,50],"nice":false,"zero":false},"axis":{"values":[-50,-25,0,25,50],"labelExpr":"''+datum.value","title":"t-SNE 1"}},"y":{"field":"y","type":"quantitative","scale":{"domain":[-59.7,44.3],"nice":false,"zero":false},"axis":{"values":[-40,-20,0,20,40],"labelExpr":"''+datum.value","title":"t-SNE 2","titlePadding":0}}},
  "layer":[{"data":{"name":"cells"},"mark":{"type":"point","filled":true,"size":5,"color":"#C9C9C9","opacity":1}},
   {"data":{"name":"hi"},"transform":[{"filter":"datum.g=='CD163'"}],"mark":{"type":"point","filled":true,"size":4,"opacity":1},"encoding":{"color":{"field":"e","type":"quantitative","scale":{"domain":[0,1.5,3],"range":["#C9C9C9","#F58A6C","#DE2C12"]},"legend":{"orient":"none","legendX":111,"legendY":43,"title":null,"gradientLength":44,"gradientThickness":10,"values":[0,1,2,3],"labelOverlap":false,"labelFontSize":8.5,"labelOffset":3,"padding":0}}}}]},
 {"title":"COL6A3","width":102,"height":120,"encoding":{"x":{"field":"x","type":"quantitative","scale":{"domain":[-50,50],"nice":false,"zero":false},"axis":{"values":[-50,-25,0,25,50],"labelExpr":"''+datum.value","title":"t-SNE 1"}},"y":{"field":"y","type":"quantitative","scale":{"domain":[-59.7,44.3],"nice":false,"zero":false},"axis":{"values":[-40,-20,0,20,40],"labelExpr":"''+datum.value","title":"t-SNE 2","titlePadding":0}}},
  "layer":[{"data":{"name":"cells"},"mark":{"type":"point","filled":true,"size":5,"color":"#C9C9C9","opacity":1}},
   {"data":{"name":"hi"},"transform":[{"filter":"datum.g=='COL6A3'"}],"mark":{"type":"point","filled":true,"size":4,"opacity":1},"encoding":{"color":{"field":"e","type":"quantitative","scale":{"domain":[0,2,4],"range":["#C9C9C9","#F58A6C","#DE2C12"]},"legend":{"orient":"none","legendX":110,"legendY":34,"title":null,"gradientLength":54,"gradientThickness":10,"values":[0,1,2,3,4],"labelOverlap":false,"labelFontSize":8.5,"labelOffset":3,"padding":0}}}}]},
 {"title":"BCAT1","width":102,"height":120,"encoding":{"x":{"field":"x","type":"quantitative","scale":{"domain":[-50,50],"nice":false,"zero":false},"axis":{"values":[-50,-25,0,25,50],"labelExpr":"''+datum.value","title":"t-SNE 1"}},"y":{"field":"y","type":"quantitative","scale":{"domain":[-59.7,44.3],"nice":false,"zero":false},"axis":{"values":[-40,-20,0,20,40],"labelExpr":"''+datum.value","title":"t-SNE 2","titlePadding":0}}},
  "layer":[{"data":{"name":"cells"},"mark":{"type":"point","filled":true,"size":5,"color":"#C9C9C9","opacity":1}},
   {"data":{"name":"hi"},"transform":[{"filter":"datum.g=='BCAT1'"}],"mark":{"type":"point","filled":true,"size":4,"opacity":1},"encoding":{"color":{"field":"e","type":"quantitative","scale":{"domain":[0,1.5,3],"range":["#C9C9C9","#F58A6C","#DE2C12"]},"legend":{"orient":"none","legendX":111,"legendY":43,"title":null,"gradientLength":44,"gradientThickness":10,"values":[0,1,2,3],"labelOverlap":false,"labelFontSize":8.5,"labelOffset":3,"padding":0}}}}]}
],"spacing":85,"bounds":"flush"}
],"spacing":194,"bounds":"flush"}
],"spacing":752.7}
